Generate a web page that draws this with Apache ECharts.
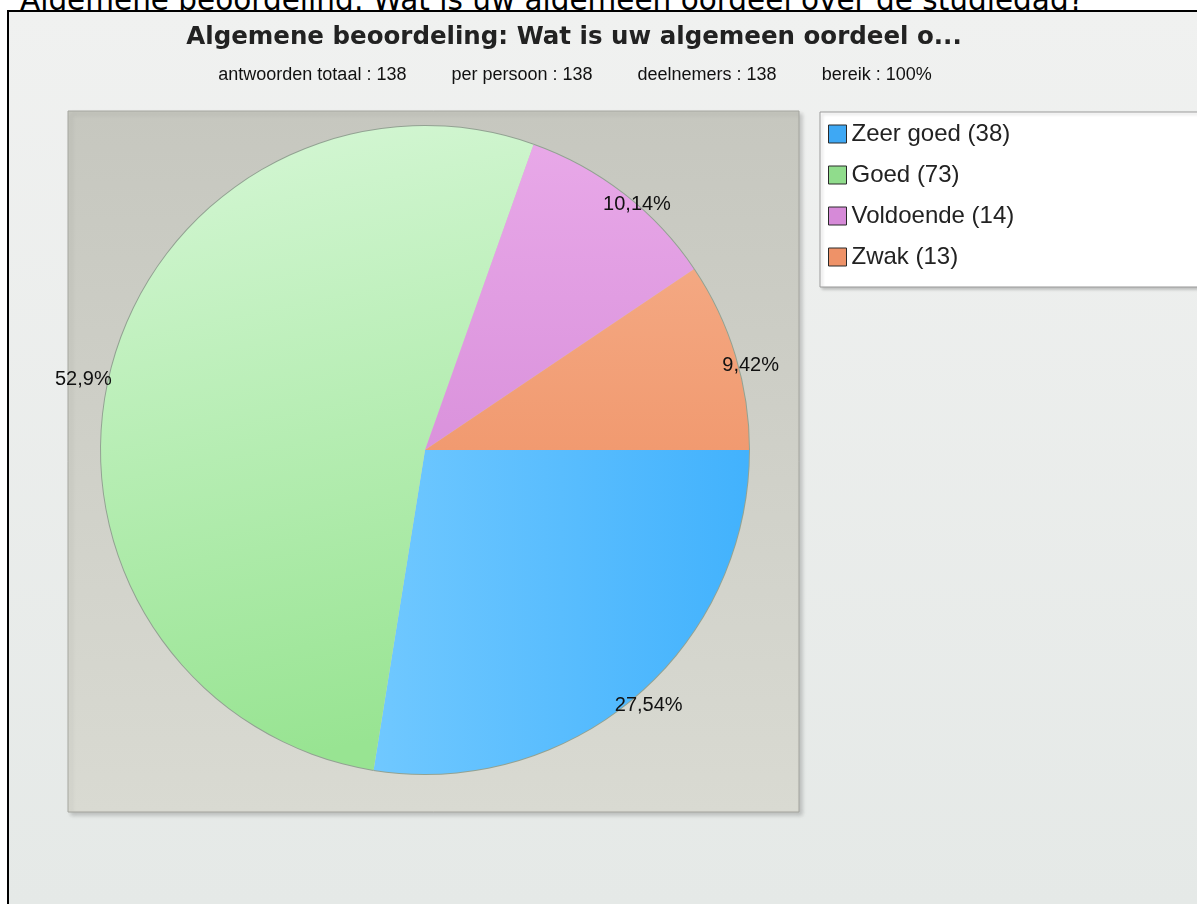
<!DOCTYPE html>
<html>
<head>
<meta charset="utf-8">
<script src="https://cdn.jsdelivr.net/npm/echarts@6/dist/echarts.min.js"></script>
<style>
  html, body { margin: 0; padding: 0; width: 1197px; height: 904px; overflow: hidden; background: #ffffff; }
  #header { position: absolute; left: 20px; top: -14px; font-family: 'DejaVu Sans', Verdana, sans-serif; font-size: 29.5px; line-height: 29.5px; color: #000; white-space: nowrap; z-index: 1; }
  #frame { position: absolute; left: 7px; top: 10px; width: 1188px; height: 892px; border-left: 2px solid #000; border-top: 2px solid #000; background: linear-gradient(to bottom, #f0f1f0, #e5e9e7); z-index: 2; }
  #chart { position: absolute; left: 0; top: 0; width: 1197px; height: 904px; z-index: 3; }
</style>
</head>
<body>
<div id="header"></div>
<div id="frame"></div>
<div id="chart"></div>
<script>
// ---- data ----
const pageHeading = 'Algemene beoordeling: Wat is uw algemeen oordeel over de studiedag?';
const chartTitle = 'Algemene beoordeling: Wat is uw algemeen oordeel o...';
const statLabels = ['antwoorden totaal', 'per persoon', 'deelnemers', 'bereik'];
const statValues = ['138', '138', '138', '100%'];
const categories = ['Zeer goed', 'Goed', 'Voldoende', 'Zwak'];
const counts = [38, 73, 14, 13];

// ---- styling ----
const sliceGradients = [
  { type: 'linear', x: 0, y: 0, x2: 1, y2: 0, colorStops: [{ offset: 0, color: '#70c8ff' }, { offset: 1, color: '#42b2fd' }] },
  { type: 'linear', x: 0, y: 0, x2: 0.3, y2: 1, colorStops: [{ offset: 0, color: '#d6f7d6' }, { offset: 1, color: '#98e492' }] },
  { type: 'linear', x: 0, y: 0, x2: 0, y2: 1, colorStops: [{ offset: 0, color: '#e8a8e8' }, { offset: 1, color: '#da92dc' }] },
  { type: 'linear', x: 0, y: 0, x2: 0, y2: 1, colorStops: [{ offset: 0, color: '#f4a882' }, { offset: 1, color: '#f19a70' }] }
];
const legendColors = ['#3ea8f4', '#90dc8c', '#d68ad8', '#ee9268'];

document.getElementById('header').textContent = pageHeading;

const total = counts.reduce((a, b) => a + b, 0);
const names = categories.map((c, i) => c + ' (' + counts[i] + ')');
const pctText = v => (Math.round(v / total * 10000) / 100).toString().replace('.', ',') + '%';
const GAP = '\u00a0'.repeat(9);
const subtitle = statLabels.map((l, i) => l + ' : ' + statValues[i]).join(GAP);

// label offsets relative to the slice edge (labels hang slightly below, left-side ones further out)
let acc = 0;
const labelOffsets = counts.map(v => {
  const mid = (acc + v / 2) / total * 2 * Math.PI; acc += v;
  const dy = Math.round(10 - 8 * Math.sin(mid));
  const leftSide = Math.cos(mid) < 0;
  return [leftSide ? -21 : 9, dy];
});

const CX = 425, CY = 450, R = 324;
const FONT = 'Liberation Sans, Arial, sans-serif';

const chart = echarts.init(document.getElementById('chart'), null, { renderer: 'canvas' });
chart.setOption({
  backgroundColor: 'transparent',
  animation: false,
  title: [
    { text: chartTitle, left: 574, top: 25, padding: 0, textAlign: 'center',
      textStyle: { fontFamily: 'DejaVu Sans, Verdana, sans-serif', fontSize: 24.5, fontWeight: 'bold', color: '#222' } },
    { text: subtitle, left: 575, top: 66, padding: 0, textAlign: 'center',
      textStyle: { fontFamily: FONT, fontSize: 18, fontWeight: 'normal', color: '#111' } }
  ],
  graphic: [
    { type: 'rect', z: -10, silent: true,
      shape: { x: 68, y: 111, width: 731, height: 701 },
      style: { fill: { type: 'linear', x: 0, y: 0, x2: 0, y2: 1, colorStops: [{ offset: 0, color: '#c6c7bf' }, { offset: 1, color: '#d9dad2' }] },
        stroke: '#a4a59e', lineWidth: 1, shadowBlur: 4, shadowOffsetX: 3, shadowOffsetY: 3, shadowColor: 'rgba(0,0,0,0.18)' } }
  ],
  legend: {
    orient: 'vertical', left: 820, top: 112,
    padding: [10, 200, 18, 8],
    backgroundColor: '#ffffff', borderColor: '#9a9a9a', borderWidth: 1,
    shadowBlur: 3, shadowOffsetX: 2, shadowOffsetY: 2, shadowColor: 'rgba(0,0,0,0.2)',
    itemWidth: 18, itemHeight: 18, itemGap: 17, icon: 'rect', selectedMode: false,
    textStyle: { fontFamily: FONT, fontSize: 24, color: '#222', padding: [0, 0, 0, 0] },
    data: names.map((n, i) => ({ name: n, itemStyle: { color: legendColors[i], borderColor: '#2a2a2a', borderWidth: 1 } }))
  },
  series: [
    { type: 'pie', name: 'outline', silent: true, center: [CX, CY], radius: [R - 1, R + 1],
      startAngle: 0, clockwise: true, legendHoverLink: false,
      label: { show: false }, labelLine: { show: false },
      itemStyle: { color: '#92a292', borderWidth: 0 },
      data: counts.map((v, i) => ({ value: v, name: '_o' + i })) },
    { type: 'pie', name: 'antwoorden', center: [CX, CY], radius: [0, R],
      startAngle: 0, clockwise: true, silent: true,
      label: { show: false }, labelLine: { show: false },
      itemStyle: { borderWidth: 0 },
      data: counts.map((v, i) => ({ value: v, name: names[i], itemStyle: { color: sliceGradients[i] } })) },
    { type: 'pie', name: 'labels', silent: true, center: [CX, CY], radius: [R - 6, R + 14],
      startAngle: 0, clockwise: true, legendHoverLink: false,
      itemStyle: { color: 'rgba(0,0,0,0)', borderWidth: 0 },
      labelLine: { show: false },
      label: { show: true, position: 'inside', color: '#111', fontFamily: FONT, fontSize: 20,
        formatter: p => pctText(p.value) },
      data: counts.map((v, i) => ({ value: v, name: '_l' + i, label: { offset: labelOffsets[i] } })) }
  ]
});
</script>
</body>
</html>
